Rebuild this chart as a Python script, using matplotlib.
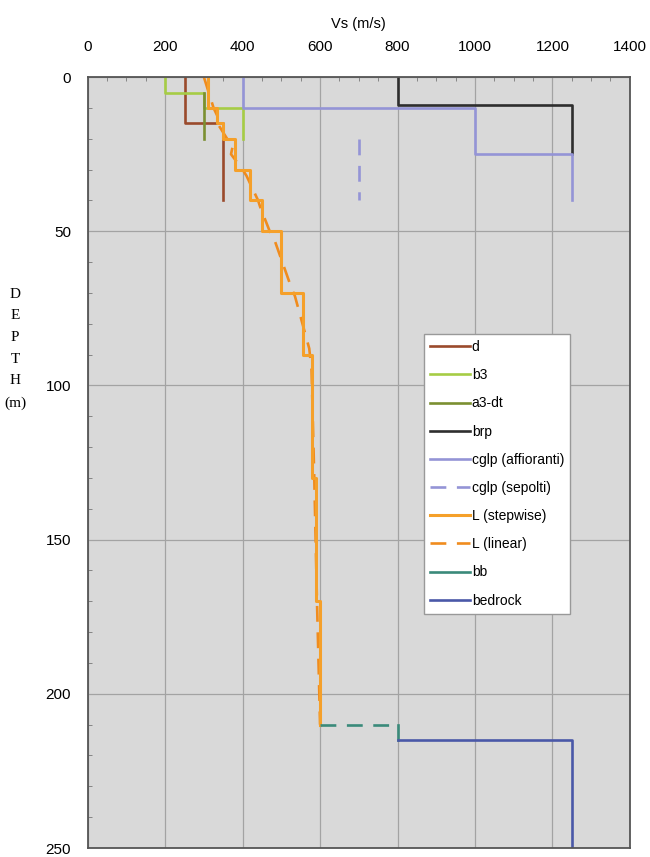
import numpy as np
import matplotlib.pyplot as plt
from matplotlib.ticker import MultipleLocator

# profiles: Vs (m/s) vs depth (m)
d_vs = [250, 250, 350, 350]
d_z = [0, 15, 15, 40]

b3_vs = [200, 200, 300, 300, 400, 400]
b3_z = [0, 5, 5, 10, 10, 20]

a3_vs = [300, 300]
a3_z = [5, 20]

brp_vs = [800, 800, 1250, 1250]
brp_z = [0, 9, 9, 25]

cglp_aff_vs = [400, 400, 1000, 1000, 1250, 1250]
cglp_aff_z = [0, 10, 10, 25, 25, 40]

cglp_sep_vs = [700, 700]
cglp_sep_z = [20, 40]

# L stepwise layers
L_top = [0, 10, 15, 20, 30, 40, 50, 70, 90, 130, 170]
L_bot = [10, 15, 20, 30, 40, 50, 70, 90, 130, 170, 210]
L_vs = [310, 335, 350, 380, 420, 450, 500, 555, 580, 590, 600]

# L linear
Llin_vs = [300, 325, 340, 335, 360, 375, 370, 400, 410, 440, 445, 470, 480, 525, 535, 572, 578, 585, 592, 600]
Llin_z = [0, 10, 14, 15, 20, 22, 25, 30, 32, 40, 42, 50, 52, 68, 71, 88, 95, 130, 170, 210]

bb_dash_vs = [600, 800]
bb_dash_z = [210, 210]
bb_vs = [800, 800]
bb_z = [210, 215]

bed_vs = [800, 1250, 1250]
bed_z = [215, 215, 250]

plt.rcParams['font.family'] = ['Liberation Sans', 'DejaVu Sans']

fig = plt.figure(figsize=(6.5, 8.57), dpi=100)
ax = fig.add_axes([0.135, 0.0105, 0.834, 0.8995])
ax.set_facecolor('#d9d9d9')

# build stepwise polyline for L
sx, sz = [], []
for t, b, v in zip(L_top, L_bot, L_vs):
    sx += [v, v]
    sz += [t, b]

lw = 1.9
ax.plot(d_vs, d_z, color='#9a4a2c', lw=lw, label='d')
ax.plot(b3_vs, b3_z, color='#a6cc45', lw=lw, label='b3')
ax.plot(a3_vs, a3_z, color='#7b8f31', lw=lw, label='a3-dt')
ax.plot(brp_vs, brp_z, color='#2e2e2e', lw=lw, label='brp')
ax.plot(cglp_aff_vs, cglp_aff_z, color='#9494d6', lw=lw, label='cglp (affioranti)')
ax.plot(cglp_sep_vs, cglp_sep_z, color='#9494d6', lw=lw, ls=(0, (6, 4)), label='cglp (sepolti)')
ax.plot(Llin_vs, Llin_z, color='#f08c1e', lw=lw, ls=(0, (6, 4)), label='L (linear)')
ax.plot(sx, sz, color='#f5a02a', lw=2.2, label='L (stepwise)')
ax.plot(bb_dash_vs, bb_dash_z, color='#3a8a7a', lw=lw, ls=(0, (6, 4)))
ax.plot(bb_vs, bb_z, color='#3a8a7a', lw=lw, label='bb')
ax.plot(bed_vs, bed_z, color='#4a58a8', lw=lw, label='bedrock')

ax.set_xlim(0, 1400)
ax.set_ylim(250, 0)
ax.xaxis.set_major_locator(MultipleLocator(200))
ax.xaxis.set_minor_locator(MultipleLocator(50))
ax.yaxis.set_major_locator(MultipleLocator(50))
ax.yaxis.set_minor_locator(MultipleLocator(10))
ax.xaxis.tick_top()
ax.xaxis.set_label_position('top')
ax.tick_params(axis='x', which='major', direction='in', length=0, pad=17, labelsize=11)
ax.tick_params(axis='y', which='major', direction='in', length=0, pad=12, labelsize=11)
ax.tick_params(which='minor', direction='in', length=3, color='#777777')
ax.tick_params(axis='x', which='minor', top=True, bottom=False)
ax.tick_params(axis='y', which='minor', left=True, right=False)
ax.grid(True, which='major', color='#a3a3a3', lw=0.9)
ax.set_axisbelow(True)
for s in ax.spines.values():
    s.set_color('#555555')
    s.set_linewidth(1.3)

ax.set_xlabel('Vs (m/s)', fontsize=10.5, labelpad=8)
fig.text(0.023, 0.593, 'D\nE\nP\nT\nH\n(m)', family='Liberation Serif', fontsize=11,
         ha='center', va='center', linespacing=1.87, multialignment='center')

# legend order as in the reference
h, l = ax.get_legend_handles_labels()
order = ['d', 'b3', 'a3-dt', 'brp', 'cglp (affioranti)', 'cglp (sepolti)',
         'L (stepwise)', 'L (linear)', 'bb', 'bedrock']
hs = [h[l.index(n)] for n in order]
leg = ax.legend(hs, order, loc='upper left', bbox_to_anchor=(0.62, 0.667), fontsize=10,
                frameon=True, fancybox=False, edgecolor='#999999', framealpha=1,
                handlelength=2.9, handletextpad=0.1, labelspacing=1.02,
                borderpad=0.45, borderaxespad=0)
leg.get_frame().set_linewidth(1.0)

fig.savefig('out.png', dpi=100)
